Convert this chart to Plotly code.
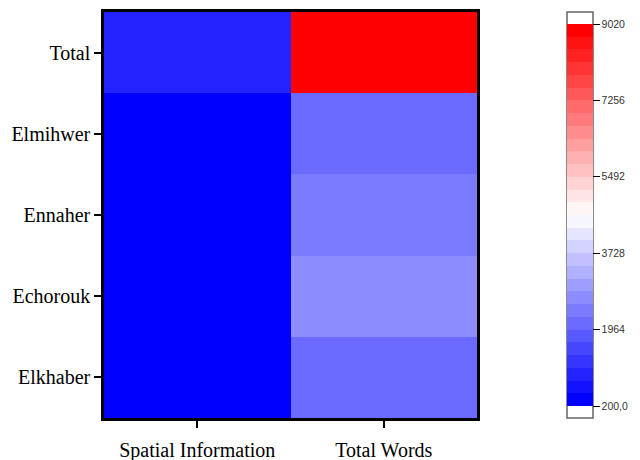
import plotly.graph_objects as go

# ---- data ----
columns = ["Spatial Information", "Total Words"]
rows = ["Elkhaber", "Echorouk", "Ennaher", "Elmihwer", "Total"]  # bottom -> top
spatial_information = [250, 260, 240, 200, 950]
total_words = [2000, 2600, 2300, 2120, 9020]
cbar_tickvals = [200, 1964, 3728, 5492, 7256, 9020]
cbar_ticktext = ["200,0", "1964", "3728", "5492", "7256", "9020"]
zmin, zmax = 200, 9020
n_levels = 30

z = [[s, t] for s, t in zip(spatial_information, total_words)]

# discrete blue-white-red colour scale
def bwr(t):
    if t <= 0.5:
        f = t / 0.5
        v = round(255 * f)
        return f"rgb({v},{v},255)"
    f = (t - 0.5) / 0.5
    v = round(255 * (1 - f))
    return f"rgb(255,{v},{v})"

colorscale = []
for i in range(n_levels):
    c = bwr(i / (n_levels - 1))
    colorscale.append([i / n_levels, c])
    colorscale.append([(i + 1) / n_levels, c])

# page has an 8px body margin: size the figure so it fits the 640x460 window
OFF = 8
W, H = 640 - OFF, 460 - OFF
L, R, T, B = 104 - OFF, 640 - 477, 12 - OFF, 460 - 418
pw, ph = W - L - R, H - T - B

def px_x(x):  # page pixel -> paper x
    return (x - 104) / pw

def px_y(y):  # page pixel -> paper y
    return (418 - y) / ph

fig = go.Figure(go.Heatmap(
    x=columns, y=rows, z=z,
    zmin=zmin, zmax=zmax,
    colorscale=colorscale,
    xgap=0, ygap=0,
    colorbar=dict(
        x=px_x(567), xanchor="left", xpad=0,
        y=px_y((24 + 406) / 2), yanchor="middle", ypad=0,
        thickness=26, thicknessmode="pixels",
        len=382, lenmode="pixels",
        outlinewidth=0,
        tickmode="array", tickvals=cbar_tickvals, ticktext=cbar_ticktext,
        ticks="outside", ticklen=7, tickwidth=1, tickcolor="black",
        tickfont=dict(family="Liberation Sans, Arial", size=10.5, color="#333"),
    ),
))

fig.add_shape(type="rect", xref="paper", yref="paper",
              x0=px_x(567), x1=px_x(593), y0=px_y(418), y1=px_y(12),
              line=dict(color="#666", width=1.5), fillcolor="rgba(0,0,0,0)",
              layer="below")

axis_font = dict(family="Liberation Serif, Times New Roman", size=20, color="black")
fig.update_layout(
    width=W, height=H,
    margin=dict(l=L, r=R, t=T, b=B, pad=0, autoexpand=False),
    paper_bgcolor="white", plot_bgcolor="white",
    xaxis=dict(showline=True, linecolor="black", linewidth=2.5, mirror=True,
               ticks="outside", ticklen=7, tickwidth=1.5, tickcolor="black",
               ticklabelstandoff=5,
               tickfont=axis_font, showgrid=False, zeroline=False),
    yaxis=dict(showline=True, linecolor="black", linewidth=2.5, mirror=True,
               ticks="outside", ticklen=7, tickwidth=2, tickcolor="black",
               tickfont=axis_font, showgrid=False, zeroline=False),
)

fig.write_html("out.html")
